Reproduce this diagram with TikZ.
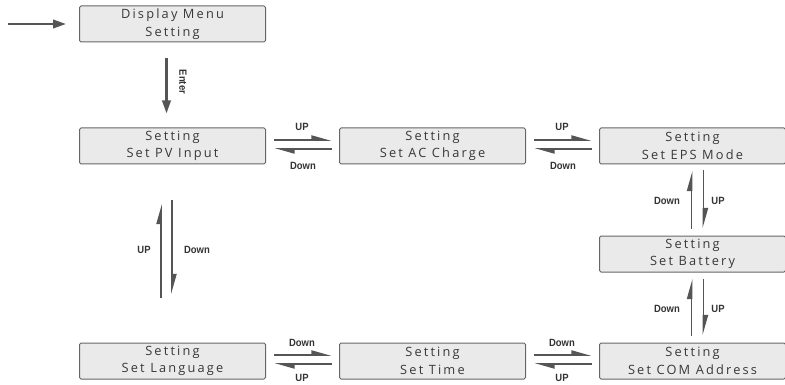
\documentclass[tikz,border=0pt]{standalone}
\usepackage{fontspec}
\newfontfamily\boxfont[LetterSpace=17]{Open Sans}
\newfontfamily\lblfont[FakeStretch=0.9]{Liberation Sans}
\usetikzlibrary{arrows.meta}
\definecolor{boxfill}{HTML}{EAEAEA}
\definecolor{boxline}{HTML}{666666}
\definecolor{arr}{HTML}{555555}
\definecolor{txt}{HTML}{383838}
\begin{document}
\begin{tikzpicture}[x=1pt,y=-1pt,
 box/.style={draw=boxline, line width=1pt, fill=boxfill, rounded corners=1.5pt,
   minimum width=186pt, minimum height=36pt, inner sep=0pt, align=center,
   font=\boxfont\fontsize{12.8}{17.5}\selectfont, text=txt},
 harp/.style={draw=arr, line width=1.9pt, -{Triangle[left,length=17pt,width=9pt]}},
 full/.style={draw=arr, line width=2.3pt, -{Triangle[length=13pt,width=8.5pt]}},
 lbl/.style={font=\lblfont\bfseries\fontsize{10.5}{11}\selectfont, text=black!80, inner sep=0pt}]
\useasboundingbox (0,0) rectangle (785,385);

\node[box] (disp) at (172.5,24) {Display Menu\\Setting};
\node[box] (pv) at (172.5,146) {Setting\\Set PV Input};
\node[box] (ac) at (432.5,146) {Setting\\Set AC Charge};
\node[box] (eps) at (692.5,146) {Setting\\Set EPS Mode};
\node[box] (bat) at (692.5,254) {Setting\\Set Battery};
\node[box] (lang) at (172.5,361) {Setting\\Set Language};
\node[box] (time) at (432.5,361) {Setting\\Set Time};
\node[box] (com) at (692.5,361) {Setting\\Set COM Address};

% entry
\coordinate (start) at (8,24);
\draw[full] (start) -- ([xshift=-13pt]disp.west);
\draw[full] ([xshift=-6pt,yshift=-16pt]disp.south) -- ([xshift=-6pt,yshift=14pt]pv.north);
\node[lbl,rotate=-90] (enter) at (183,82) {Enter};

% PV <-> AC
\draw[harp] ([xshift=8pt,yshift=6pt]pv.east) -- ([xshift=-7pt,yshift=6pt]ac.west);
\draw[harp] ([xshift=-7pt,yshift=-3pt]ac.west) -- ([xshift=8pt,yshift=-3pt]pv.east);
\node[lbl] (l1) at (302,127) {UP};
\node[lbl] (l2) at (303,166) {Down};
% AC <-> EPS
\draw[harp] ([xshift=8pt,yshift=6pt]ac.east) -- ([xshift=-7pt,yshift=6pt]eps.west);
\draw[harp] ([xshift=-7pt,yshift=-3pt]eps.west) -- ([xshift=8pt,yshift=-3pt]ac.east);
\node[lbl] (l3) at (562,127) {UP};
\node[lbl] (l4) at (563,166) {Down};

% EPS <-> Battery
\draw[harp] ([xshift=-1pt,yshift=7pt]bat.north) -- ([xshift=-1pt,yshift=-6pt]eps.south);
\draw[harp] ([xshift=11pt,yshift=-6pt]eps.south) -- ([xshift=11pt,yshift=7pt]bat.north);
\node[lbl] (l5) at (667,201) {Down};
\node[lbl] (l6) at (718,201) {UP};
% Battery <-> COM
\draw[harp] ([xshift=-1pt,yshift=7pt]com.north) -- ([xshift=-1pt,yshift=-6pt]bat.south);
\draw[harp] ([xshift=11pt,yshift=-6pt]bat.south) -- ([xshift=11pt,yshift=7pt]com.north);
\node[lbl] (l7) at (667,309) {Down};
\node[lbl] (l8) at (718,309) {UP};

% Language <-> Time
\draw[harp] ([xshift=8pt,yshift=6pt]lang.east) -- ([xshift=-7pt,yshift=6pt]time.west);
\draw[harp] ([xshift=-7pt,yshift=-3pt]time.west) -- ([xshift=8pt,yshift=-3pt]lang.east);
\node[lbl] (l9) at (302,343) {Down};
\node[lbl] (l10) at (302,378) {UP};
% Time <-> COM
\draw[harp] ([xshift=8pt,yshift=6pt]time.east) -- ([xshift=-7pt,yshift=6pt]com.west);
\draw[harp] ([xshift=-7pt,yshift=-3pt]com.west) -- ([xshift=8pt,yshift=-3pt]time.east);
\node[lbl] (l11) at (562,343) {Down};
\node[lbl] (l12) at (562,378) {UP};

% PV <-> Language
\draw[harp] ([xshift=-11.5pt,yshift=45pt]lang.north) -- ([xshift=-11.5pt,yshift=-39pt]pv.south);
\draw[harp] ([xshift=-0.5pt,yshift=-36pt]pv.south) -- ([xshift=-0.5pt,yshift=48pt]lang.north);
\node[lbl] (l13) at (144,250) {UP};
\node[lbl] (l14) at (197,250) {Down};
\end{tikzpicture}
\end{document}
